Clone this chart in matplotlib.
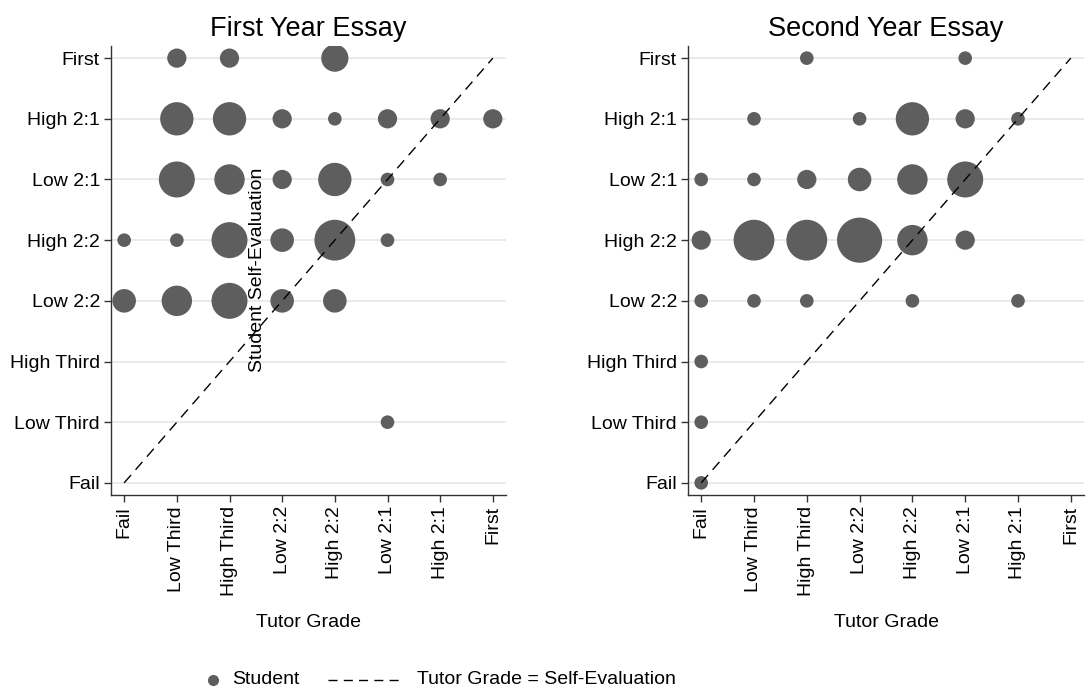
import matplotlib
matplotlib.use('Agg')
import matplotlib.pyplot as plt
from matplotlib.lines import Line2D

plt.rcParams['font.family'] = ['Liberation Sans', 'DejaVu Sans']

grades = ["Fail", "Low Third", "High Third", "Low 2:2", "High 2:2",
          "Low 2:1", "High 2:1", "First"]

# First year essay: tutor grade index, self-evaluation index, number of students
fy_tutor = [1, 2, 4, 1, 2, 3, 4, 5, 6, 7, 1, 2, 3, 4, 5, 6, 0, 1, 2, 3, 4, 5, 0, 1, 2, 3, 4, 5]
fy_self = [7, 7, 7, 6, 6, 6, 6, 6, 6, 6, 5, 5, 5, 5, 5, 5, 4, 4, 4, 4, 4, 4, 3, 3, 3, 3, 3, 1]
fy_count = [2, 2, 4, 6, 6, 2, 1, 2, 2, 2, 7, 5, 2, 6, 1, 1, 1, 1, 7, 3, 9, 1, 3, 5, 7, 3, 3, 1]

# Second year essay
sy_tutor = [2, 5, 1, 3, 4, 5, 6, 0, 1, 2, 3, 4, 5, 0, 1, 2, 3, 4, 5, 0, 1, 2, 4, 6, 0, 0, 0]
sy_self = [7, 7, 6, 6, 6, 6, 6, 5, 5, 5, 5, 5, 5, 4, 4, 4, 4, 4, 4, 3, 3, 3, 3, 3, 2, 1, 0]
sy_count = [1, 1, 1, 1, 6, 2, 1, 1, 1, 2, 3, 5, 7, 2, 9, 9, 11, 5, 2, 1, 1, 1, 1, 1, 1, 1, 1]

diag = [0, 7]

W, H = 1088, 700
fig = plt.figure(figsize=(W / 100, H / 100), dpi=100)

MARK = '#5e5e5e'
AREA = 96

panels = [
    ("First Year Essay", fy_tutor, fy_self, fy_count, 111, 506),
    ("Second Year Essay", sy_tutor, sy_self, sy_count, 688, 1084),
]
top_px, bot_px = 46, 495
for title, tx, sy, cnt, l, r in panels:
    ax = fig.add_axes([l / W, 1 - bot_px / H, (r - l) / W, (bot_px - top_px) / H])
    ax.set_xlim(-0.25, 7.25)
    ax.set_ylim(-0.2, 7.2)
    for y in range(len(grades)):
        ax.axhline(y, color='#e8e8e8', lw=1.3, zorder=0)
    ax.scatter(tx, sy, s=[AREA * c for c in cnt], color=MARK, edgecolors='none', zorder=2)
    ax.plot(diag, diag, color='black', lw=1.0, ls=(0, (7.5, 5)), zorder=3)
    ax.set_xticks(range(len(grades)))
    ax.set_xticklabels(grades, rotation=90, fontsize=14)
    ax.set_yticks(range(len(grades)))
    ax.set_yticklabels(grades, fontsize=14)
    ax.tick_params(axis='both', length=5, width=1, color='#333333', pad=3)
    for s in ['top', 'right']:
        ax.spines[s].set_visible(False)
    for s in ['left', 'bottom']:
        ax.spines[s].set_color('#333333')
        ax.spines[s].set_linewidth(1.0)
    ax.set_title(title, fontsize=19.5, pad=7)
    ax.set_xlabel("Tutor Grade", fontsize=14, labelpad=13)

fig.text(258 / W, 1 - 270 / H, "Student Self-Evaluation", rotation=90,
         ha='center', va='center', fontsize=14)

# legend
ly = 1 - 680 / H
fig.add_artist(Line2D([213 / W], [ly], marker='o', markersize=8, color=MARK,
                      markeredgecolor='none', transform=fig.transFigure))
fig.text(232 / W, ly, "Student", ha='left', va='center', fontsize=14)
fig.add_artist(Line2D([328 / W, 403 / W], [ly, ly], color='black', lw=1.0,
                      ls=(0, (6.5, 4.5)), transform=fig.transFigure))
fig.text(417 / W, ly, "Tutor Grade = Self-Evaluation", ha='left', va='center', fontsize=14)

fig.savefig('out.png', dpi=100, facecolor='white')
